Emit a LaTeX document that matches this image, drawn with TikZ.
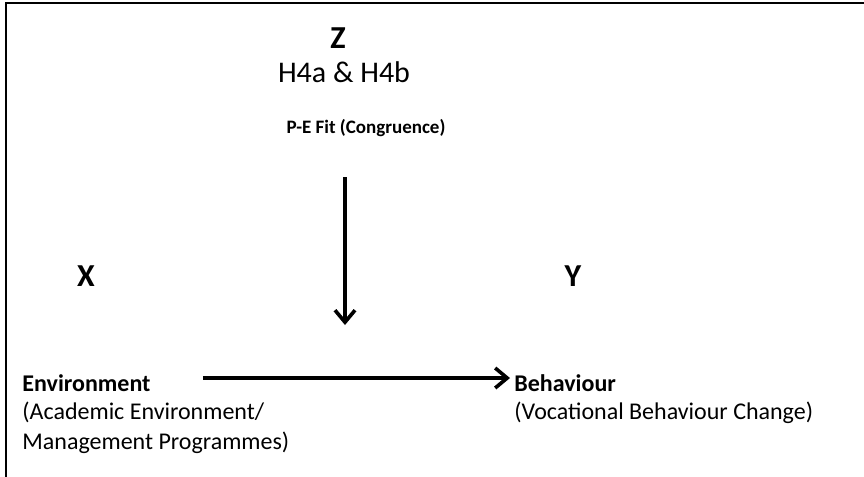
\documentclass[tikz,border=0pt]{standalone}
\usepackage{fontspec}
\setmainfont{Carlito}
\usetikzlibrary{arrows.meta,positioning}
\tikzset{
 var/.style={font=\fontsize{16}{19}\selectfont\bfseries,inner sep=0pt},
 lbl/.style={font=\fontsize{12}{14.6}\selectfont,align=left,inner sep=0pt},
 arrow/.style={-{Straight Barb[length=6pt,width=10pt]},line width=1.8pt},
}

\begin{document}
\begin{tikzpicture}[x=0.5pt,y=-0.5pt]
\useasboundingbox (0,0) rectangle (864,477);
% frame, top and left only
\draw[line width=1.3pt] (6,477) -- (6,3) -- (864,3);
\node[var] (z) at (338,38) {Z};
\node[lbl,font=\fontsize{15}{18}\selectfont] (hyp) at (344,72) {H4a \& H4b};
\node[lbl,font=\fontsize{9.5}{11}\selectfont\bfseries] (fit) at (366,128) {P-E Fit (Congruence)};
\node[var] (x) at (86,276) {X};
\node[var] (y) at (573,276) {Y};
\node[lbl,anchor=west,font=\fontsize{12}{14.6}\selectfont\bfseries] (envt) at (22,383) {Environment};
\node[lbl,below=5pt of envt.south west,anchor=north west] (envd) {(Academic Environment/\\Management Programmes)};
\node[lbl,anchor=west,font=\fontsize{12}{14.6}\selectfont\bfseries] (beht) at (514,383) {Behaviour};
\node[lbl,below=5pt of beht.south west,anchor=north west] (behd) {(Vocational Behaviour Change)};
\coordinate (top) at (345,177);
\coordinate (tip) at (345,325);
\draw[arrow] (top) -- (tip);
\draw[arrow] ([xshift=26pt,yshift=2.5pt]envt.east) -- ([xshift=-2pt,yshift=2.5pt]beht.west);
\end{tikzpicture}
\end{document}
